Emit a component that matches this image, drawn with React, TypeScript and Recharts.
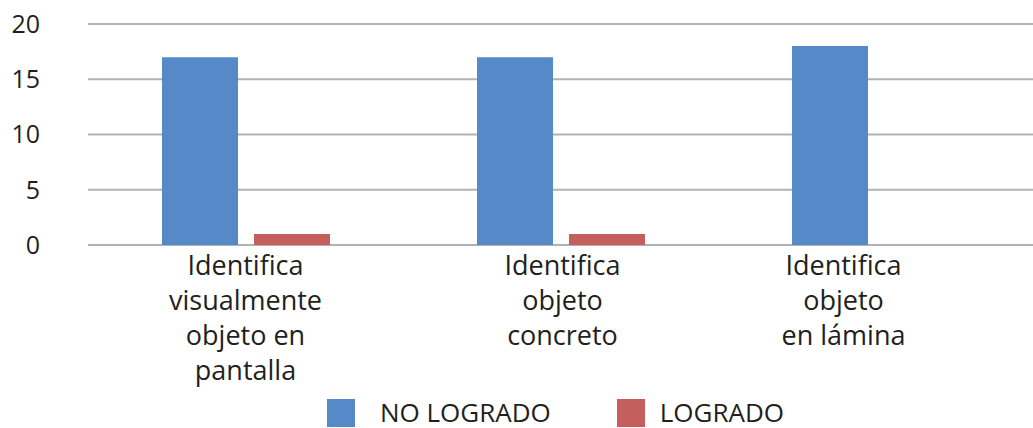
import React from "react";
import { BarChart, Bar, XAxis, YAxis, CartesianGrid, Legend } from "recharts";

const categories = [
  ["Identifica", "visualmente", "objeto en", "pantalla"],
  ["Identifica", "objeto", "concreto"],
  ["Identifica", "objeto", "en lámina"],
];
const noLogrado = [17, 17, 18];
const logrado = [1, 1, 0];
const yTicks = [0, 5, 10, 15, 20];
const seriesNames = ["NO LOGRADO", "LOGRADO"];

const BLUE = "#5589C8";
const RED = "#C45F5E";
const FONT = "'Open Sans', sans-serif";

const data = categories.map((lines, i) => ({
  name: lines.join(" "),
  idx: i,
  noLogrado: noLogrado[i],
  logrado: logrado[i],
}));

const labelShift = [0, 2, -32];

const XTick = (props: any) => {
  const { x, y, index } = props;
  const lines = categories[index] || [];
  return (
    <text
      x={x + labelShift[index]}
      y={y}
      textAnchor="middle"
      fill="#231F20"
      fontSize={27}
      fontFamily={FONT}
    >
      {lines.map((l, k) => (
        <tspan key={k} x={x + labelShift[index]} dy={k === 0 ? 30 : 35}>
          {l}
        </tspan>
      ))}
    </text>
  );
};

const renderLegend = () => (
  <div
    style={{
      width: 1033,
      height: 42,
      display: "flex",
      justifyContent: "center",
      alignItems: "flex-start",
      paddingLeft: 78,
      boxSizing: "border-box",
      fontFamily: FONT,
      fontSize: 26,
      color: "#231F20",
      overflow: "visible",
    }}
  >
    <div style={{ display: "flex", alignItems: "center", marginTop: 13 }}>
      <div style={{ width: 28, height: 28, background: BLUE }} />
      <span style={{ marginLeft: 25, lineHeight: "26px", marginTop: -2 }}>{seriesNames[0]}</span>
    </div>
    <div style={{ display: "flex", alignItems: "center", marginTop: 13, marginLeft: 66 }}>
      <div style={{ width: 28, height: 28, background: RED }} />
      <span style={{ marginLeft: 15, lineHeight: "26px", marginTop: -2 }}>{seriesNames[1]}</span>
    </div>
  </div>
);

export default function App() {
  return (
    <div style={{ position: "absolute", left: 0, top: 0, background: "#fff" }}>
      <BarChart
        width={1033}
        height={428}
        data={data}
        margin={{ top: 24, right: 0, bottom: 0, left: 0 }}
        barCategoryGap={74}
        barGap={16}
      >
        <CartesianGrid vertical={false} stroke="#B2B2B4" strokeWidth={2} />
        <XAxis
          dataKey="name"
          axisLine={false}
          tickLine={false}
          tickSize={0}
          tickMargin={0}
          height={141}
          interval={0}
          tick={<XTick />}
        />
        <YAxis
          domain={[0, 20]}
          ticks={yTicks}
          width={88}
          axisLine={false}
          tickLine={false}
          tickSize={0}
          tickMargin={48}
          tick={{ fill: "#231F20", fontSize: 25, fontFamily: FONT }}
        />
        <Legend
          verticalAlign="bottom"
          height={42}
          content={renderLegend}
          wrapperStyle={{ left: 0, bottom: 0, width: 1033, height: 42 }}
        />
        <Bar dataKey="noLogrado" name={seriesNames[0]} fill={BLUE} isAnimationActive={false} />
        <Bar dataKey="logrado" name={seriesNames[1]} fill={RED} isAnimationActive={false} />
      </BarChart>
    </div>
  );
}
